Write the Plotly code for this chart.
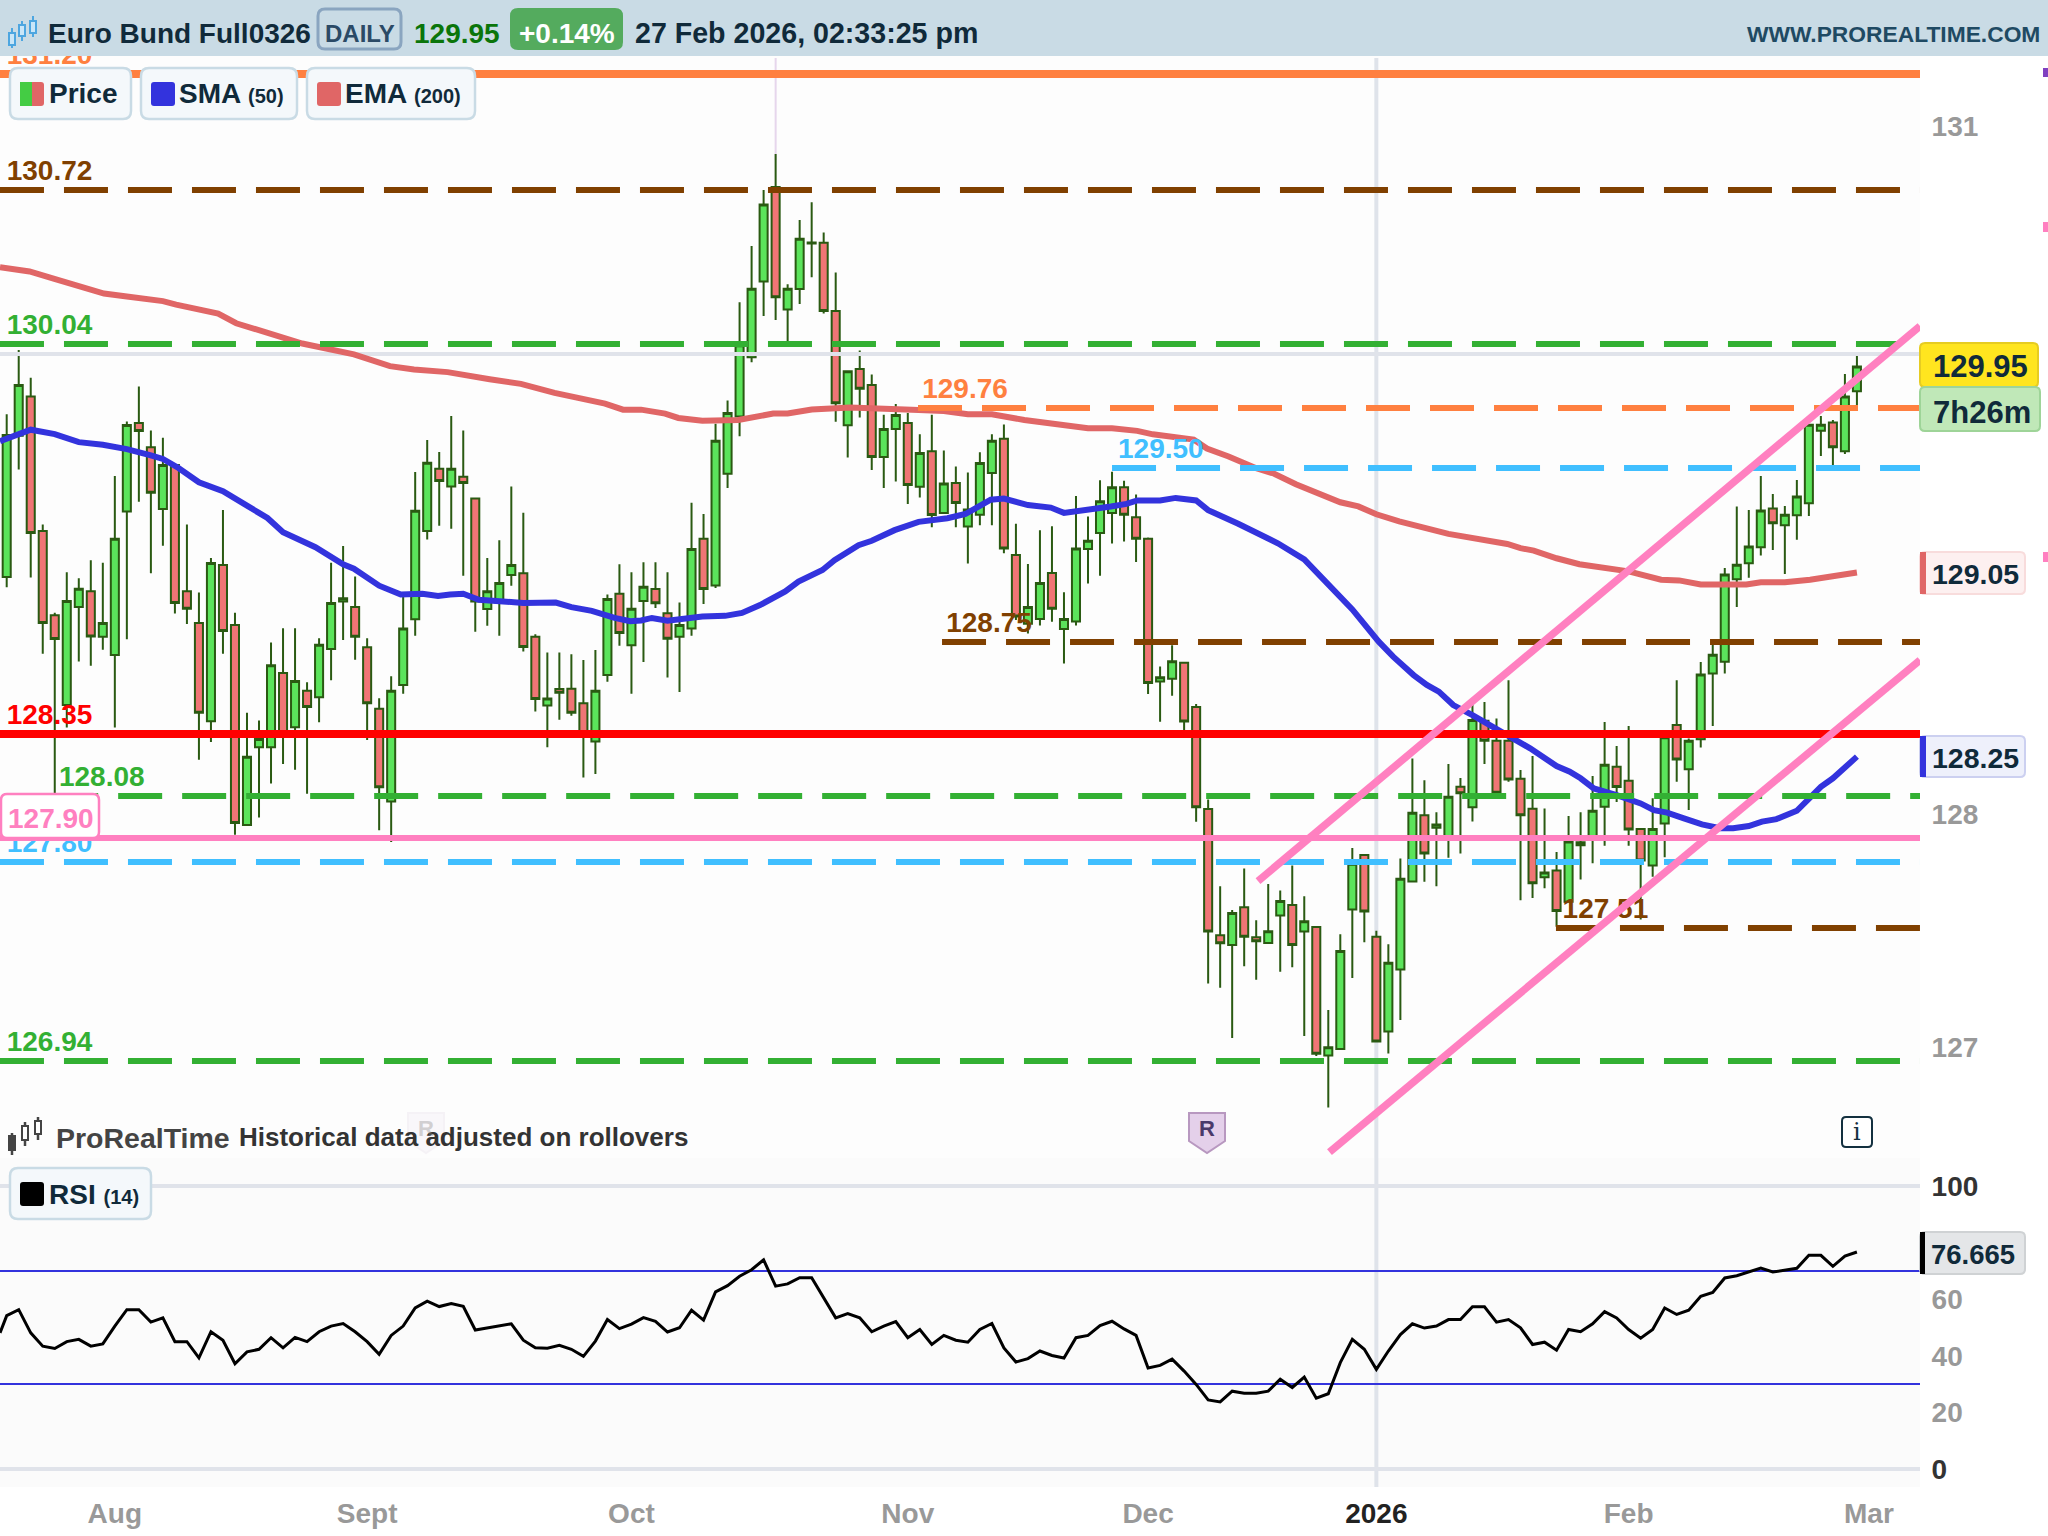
import plotly.graph_objects as go

# ---------- data ----------
opens = [129.041,129.654,129.824,129.240,128.875,128.485,128.911,128.979,128.781,128.702,
129.325,129.709,129.604,129.336,129.527,128.979,128.841,128.415,129.093,128.832,
127.964,128.302,128.302,128.624,128.389,128.547,128.519,128.728,128.934,128.911,
128.736,128.469,128.066,128.572,128.857,129.240,129.511,129.434,129.476,129.381,
128.902,128.93,129.049,129.057,128.781,128.483,128.555,128.556,128.493,128.327,
128.615,128.968,128.745,128.937,128.989,128.883,128.781,128.817,129.207,129.004,
129.489,129.737,129.995,130.323,130.733,130.202,130.291,130.488,130.491,130.195,
129.699,129.944,129.874,129.562,129.683,129.709,129.432,129.587,129.319,129.449,
129.260,129.311,129.492,129.641,129.136,128.838,128.858,129.058,128.815,128.848,
129.162,129.232,129.319,129.430,129.300,129.207,128.587,128.599,128.668,128.477,
128.034,127.486,127.443,127.607,127.477,127.452,127.572,127.617,127.502,127.522,
126.964,126.992,127.598,127.834,127.479,127.068,127.337,127.719,128.007,127.952,
127.899,128.130,128.041,128.417,128.330,128.330,128.165,128.035,127.738,127.767,
127.631,127.876,127.899,128.044,128.217,128.156,127.947,127.789,127.971,128.398,
128.206,128.336,128.622,128.673,129.031,129.100,129.170,129.338,129.265,129.309,
129.361,129.675,129.711,129.586,129.847]
closes = [129.657,129.874,129.232,128.841,128.772,128.937,128.990,128.782,128.841,129.207,
129.700,129.674,129.406,129.527,128.928,128.903,128.451,129.102,128.806,127.973,
128.260,128.338,128.658,128.36,128.589,128.477,128.747,128.928,128.948,128.781,
128.493,128.128,128.547,128.817,129.328,129.537,129.457,129.511,129.449,128.934,
128.979,129.015,129.093,128.737,128.511,128.513,128.538,128.451,128.356,128.547,
128.945,128.798,128.903,128.998,128.927,128.773,128.832,129.162,128.989,129.632,
129.753,130.047,130.292,130.657,130.255,130.292,130.509,130.492,130.195,129.795,
129.934,129.858,129.562,129.683,129.744,129.440,129.579,129.310,129.447,129.362,
129.334,129.536,129.632,129.164,128.869,128.911,129.015,128.903,128.858,129.164,
129.198,129.370,129.430,129.311,129.207,128.581,128.606,128.675,128.413,128.041,
127.502,127.451,127.582,127.479,127.460,127.503,127.634,127.443,127.547,126.972,
127.000,127.417,127.796,127.589,127.025,127.366,127.731,128.018,127.841,127.967,
128.087,128.102,128.42,128.33,128.104,128.162,128.007,127.711,127.758,127.591,
127.893,127.889,128.026,128.226,128.129,127.945,127.81,127.947,128.345,128.249,
128.330,128.617,128.703,129.052,129.094,129.173,129.329,129.274,129.311,129.390,
129.701,129.701,129.604,129.824,129.954]
highs = [129.747,130.026,129.905,129.269,128.886,129.061,129.035,129.113,129.103,129.479,
129.716,129.868,129.677,129.645,129.527,129.269,128.973,129.123,129.331,128.886,
128.452,128.418,128.756,128.818,128.818,128.584,128.775,129.103,129.175,129.043,
128.775,128.514,128.610,128.968,129.496,129.635,129.583,129.739,129.677,129.381,
129.123,129.20,129.434,129.320,128.792,128.713,128.713,128.705,128.680,128.724,
128.965,129.096,129.061,129.105,129.105,129.061,128.930,129.363,129.314,129.706,
129.807,130.233,130.477,130.720,130.877,130.311,130.590,130.667,130.536,130.362,
129.934,130.024,129.920,129.745,129.792,129.753,129.660,129.745,129.590,129.520,
129.494,129.582,129.660,129.703,129.272,129.097,129.244,129.261,128.975,129.392,
129.303,129.461,129.497,129.458,129.399,129.212,128.652,128.745,128.668,128.489,
128.075,127.699,127.595,127.776,127.551,127.708,127.680,127.789,127.655,127.522,
127.161,127.490,127.865,127.834,127.505,127.447,127.819,128.253,128.159,128.020,
128.229,128.168,128.491,128.498,128.427,128.593,128.203,128.264,128.036,127.847,
128.003,128.020,128.177,128.411,128.307,128.394,127.947,128.080,128.36,128.593,
128.340,128.672,128.767,129.080,129.347,129.332,129.479,129.401,129.349,129.462,
129.701,129.740,129.722,129.922,130.000]
lows = [128.996,129.507,129.038,128.708,128.10,128.387,128.674,128.655,128.725,128.387,
128.770,129.367,129.057,129.176,128.882,128.837,128.248,128.325,128.708,127.922,
127.964,127.997,128.144,128.229,128.204,128.10,128.410,128.593,128.767,128.682,
128.333,127.942,127.891,128.534,128.786,129.204,129.263,129.25,129.046,128.803,
128.829,128.786,129.003,128.717,128.457,128.302,128.421,128.438,128.170,128.186,
128.586,128.742,128.534,128.672,128.906,128.604,128.542,128.786,128.924,128.993,
129.427,129.652,129.973,130.174,130.156,130.063,130.226,130.342,130.184,129.714,
129.559,129.733,129.505,129.427,129.455,129.358,129.386,129.257,129.319,129.257,
129.099,129.265,129.265,129.144,128.854,128.795,128.830,128.846,128.665,128.830,
129.012,129.046,129.186,129.195,129.106,128.533,128.412,128.525,128.370,127.978,
127.276,127.258,127.040,127.351,127.293,127.452,127.327,127.347,127.049,126.962,
126.738,126.992,127.300,127.455,127.025,126.973,127.118,127.719,127.718,127.699,
127.822,127.841,127.979,128.229,128.104,128.152,127.638,127.648,127.690,127.523,
127.631,127.728,127.798,127.874,128.064,127.874,127.554,127.740,127.824,128.152,
128.029,128.301,128.394,128.622,128.910,129.037,129.134,129.158,129.054,129.202,
129.306,129.566,129.527,129.575,129.787]

sma_x = [-0.56,2,4,6,8,10,12,13,14.3,16,18,19.8,21.7,23,25.7,28,28.9,31,32.8,34.6,35.9,36.9,38,39.3,41.3,43,45.7,47,48.7,50.6,51.9,52.8,53.7,55,57.9,59.8,61.2,62.7,64.8,65.9,67.9,68.9,70.9,72,73.9,75.9,78.3,79.8,81.9,83,85,86.9,88,89.9,91.9,93.2,94.1,96,97.3,99,100,102.5,105.8,108,109.9,112,114.2,115.4,117.1,118.2,119.2,120.4,122,123.7,125.1,126.8,129,130.1,131,132.1,134,136,137.1,138.2,139.6,141.1,142.6,143.7,145,146.1,147.3,149,151,152,154]
sma_y = [129.630,129.680,129.661,129.626,129.615,129.596,129.569,129.553,129.514,129.452,129.413,129.359,129.297,129.235,129.170,129.096,129.077,129.003,128.965,128.968,128.958,128.965,128.968,128.942,128.937,128.928,128.930,128.910,128.894,128.863,128.849,128.852,128.863,128.851,128.869,128.872,128.885,128.919,128.978,129.021,129.071,129.114,129.179,129.198,129.244,129.280,129.296,129.314,129.376,129.381,129.353,129.342,129.319,129.330,129.347,129.358,129.373,129.373,129.384,129.373,129.331,129.272,129.187,129.117,129.012,128.900,128.760,128.695,128.615,128.572,128.543,128.485,128.441,128.391,128.343,128.297,128.220,128.196,128.167,128.123,128.094,128.058,128.029,128.018,127.993,127.967,127.950,127.950,127.960,127.979,127.990,128.026,128.130,128.167,128.261]
ema_x = [-0.56,1.9,3.9,5.9,8.1,10,13,14.1,17.6,19.1,22,24.6,28.9,31.9,33.9,36.7,40.2,42.8,45.6,47.6,49.8,51.3,52.8,54.8,55.9,57.9,60.9,63.8,65,67,70.2,75.9,78,80,82,84.7,88,90,92,94.1,95.4,98.8,99.9,101.7,104,105.5,107.3,109.2,111,112.5,114,115.9,118.1,120,124.9,126,127.1,129,130.9,135,137.7,139.2,141,144.8,146,148,150.1,152,154]
ema_y = [130.385,130.367,130.336,130.305,130.271,130.258,130.238,130.223,130.184,130.142,130.099,130.054,130.007,129.956,129.941,129.930,129.899,129.879,129.840,129.817,129.793,129.767,129.767,129.750,129.731,129.719,129.722,129.750,129.750,129.768,129.776,129.765,129.761,129.747,129.747,129.722,129.696,129.686,129.686,129.675,129.660,129.637,129.598,129.564,129.513,129.489,129.443,129.404,129.365,129.347,129.313,129.282,129.251,129.228,129.184,129.166,129.155,129.122,129.096,129.065,129.029,129.026,129.008,129.008,129.018,129.018,129.029,129.046,129.060]
rsi_start = [48.1]
rsi = [54.2,56.3,48.1,43.4,42.6,45.0,45.8,43.4,44.2,50.5,
56.3,56.3,51.9,53.4,45.0,45.0,39.3,48.5,45.5,37.2,
41.4,42.3,46.4,42.8,46.5,45.0,48.5,50.5,51.4,48.5,
45.0,40.5,47.2,50.5,56.9,59.3,57.4,58.5,57.5,49.1,
49.9,50.5,51.3,45.5,42.8,42.7,43.7,42.3,39.8,45.2,
52.8,49.6,51.2,53.5,52.2,48.4,49.9,56.1,52.6,62.6,
64.8,68.1,70.4,73.9,64.6,65.4,67.6,67.6,60.4,53.4,
54.9,53.4,48.5,50.5,52.1,46.4,49.3,44.0,47.2,45.5,
44.8,49.3,51.4,42.8,37.8,
39.0,41.7,40.1,39.2,46.4,47.2,50.7,52.2,49.5,47.2,
35.7,36.6,38.8,34.6,29.9,24.4,23.7,27.5,26.8,26.8,
27.5,31.7,28.8,32.5,25.0,26.6,37.6,45.8,42.3,35.2,
41.7,47.5,51.3,49.8,50.5,52.8,52.8,57.3,57.3,51.9,
52.8,49.9,44.0,44.8,42.0,49.3,48.5,51.3,55.6,53.4,
49.3,46.2,49.3,56.9,54.6,56.1,61.0,62.4,67.5,68.3,
69.7,71.0,69.6,70.2,70.9,75.5,75.5,71.6,75.2,76.67]

dash_levels = [130.72, 130.052, 129.774, 129.514, 128.759, 128.09, 127.804, 127.517, 126.94]
dash_labels = ["130.72", "130.04", "129.76", "129.50", "128.75", "128.08", "127.80", "127.51", "126.94"]
dash_colors = ["#804000", "#33b033", "#ff8040", "#40bfff", "#804000", "#33b033", "#40bfff", "#804000", "#33b033"]
dash_start = [-0.56, -0.56, 75.85, 92, 77.85, 3.95, -0.56, 128.95, -0.56]
label_start = [0.0, 0.0, 76.2, 92.5, 78.2, 4.35, 0.0, 129.5, 0.0]
label_lift = 0.012
solid_levels = [131.224, 128.359, 127.908]
solid_labels = ["131.20", "128.35", ""]
solid_colors = ["#ff8040", "#ff0000", "#ff80c0"]
solid_widths = [8, 8, 6]
grid_level = 130.009
trend_x = [[104.15, 159.25], [110.1, 159.25]]
trend_y = [[127.721, 130.130], [126.545, 128.680]]
month_pos = [9, 30, 52, 75, 95, 114, 135, 155]
month_txt = ["Aug", "Sept", "Oct", "Nov", "Dec", "<span style='color:#222'>2026</span>", "Feb", "Mar"]
price_ticks = [130.998, 128.012, 127.0]
price_tick_txt = ["131", "128", "127"]
rsi_ticks = [100, 60, 40, 20, 0]
rsi_tick_txt = ["<span style='color:#333'>100</span>", "60", "40", "20", "<span style='color:#333'>0</span>"]
rsi_levels = [70, 30]

# ---------- layout helpers ----------
W, H = 2048, 1536
FONT = "Liberation Sans"
def X(p): return p / W
def Y(p): return 1 - p / H
shapes, annos = [], []
def rrect(x0, y0, x1, y1, r=0, fill=None, line=None, lw=0, layer="above"):
    a, b, c, d = X(x0), Y(y0), X(x1), Y(y1)
    rx, ry = r / W, r / H
    if r:
        path = (f"M{a+rx},{b} L{c-rx},{b} Q{c},{b} {c},{b-ry} L{c},{d+ry} Q{c},{d} {c-rx},{d} "
                f"L{a+rx},{d} Q{a},{d} {a},{d+ry} L{a},{b-ry} Q{a},{b} {a+rx},{b} Z")
    else:
        path = f"M{a},{b} L{c},{b} L{c},{d} L{a},{d} Z"
    shapes.append(dict(type="path", xref="paper", yref="paper", path=path, fillcolor=fill or "rgba(0,0,0,0)",
                       line=dict(color=line or "rgba(0,0,0,0)", width=lw), layer=layer))
def seg(x0, y0, x1, y1, color, w, layer="above"):
    shapes.append(dict(type="line", xref="paper", yref="paper", x0=X(x0), y0=Y(y0), x1=X(x1), y1=Y(y1),
                       line=dict(color=color, width=w), layer=layer))
def txt(x, y, s, size=28, color="#102a3a", anchor="left", family=FONT, bold=True):
    annos.append(dict(xref="paper", yref="paper", x=X(x), y=Y(y), text=f"<b>{s}</b>" if bold else s, showarrow=False,
                      xanchor=anchor, yanchor="middle", font=dict(family=family, size=size, color=color), borderpad=0))

GREEN, RED = "#5be45b", "#f07575"
WICK = "#2a5a12"
SMA_C, EMA_C = "#3333dd", "#e06666"

# panes
rrect(0, 1158, 1920, 1487, fill="#fbfbfb", layer="below")
# vertical 2026 line and lilac marker line
shapes.append(dict(type="line", xref="x", yref="paper", x0=month_pos[5], x1=month_pos[5], y0=Y(1487), y1=Y(58),
                   line=dict(color="#dfe3ea", width=4), layer="below"))
shapes.append(dict(type="line", xref="x", yref="paper", x0=64, x1=64, y0=Y(160), y1=Y(58),
                   line=dict(color="#e6d6ec", width=2), layer="below"))

# header
rrect(0, 0, W, 56, fill="#c9dbe5")
for xc, top, bt, wt, wb in [(12, 33, 45, 28, 48), (22, 25, 36, 21, 41), (33, 21, 33, 16, 37)]:
    seg(xc, wt, xc, wb, "#4da6e0", 2)
    rrect(xc - 3, top, xc + 3, bt, fill="#c9e6f8", line="#4da6e0", lw=2)
txt(47, 33, "Euro Bund Full0326")
rrect(318, 9, 401, 49, r=7, line="#8aa5c0", lw=3)
txt(359.5, 33, "DAILY", size=24, color="#2b4a66", anchor="center")
txt(413, 33, "129.95", color="#0a750a")
rrect(510, 8, 623, 50, r=8, fill="#54ab5e")
txt(566.5, 33, "+0.14%", color="#ffffff", anchor="center")
txt(634, 33, "27 Feb 2026, 02:33:25 pm", size=28.6)
txt(2041, 34, "WWW.PROREALTIME.COM", size=22.8, color="#1f4a63", anchor="right")

# legend chips
def chip(x0, x1, y0, y1, swatch):
    rrect(x0, y0, x1, y1, r=8, fill="#f4f8fb", line="#c9dbe5", lw=2.5)
    if swatch:
        rrect(x0 + 10, y0 + 14, x0 + 34, y0 + 38, r=3, fill=swatch)
chip(10, 131, 68, 119, None)
rrect(20, 82, 44, 106, r=3, fill=EMA_C)
rrect(20, 82, 32, 106, fill="#44cc44")
txt(48, 94, "Price")
chip(141, 297, 68, 119, SMA_C)
txt(178, 94, "SMA <span style='font-size:20px'>(50)</span>")
chip(307, 475, 68, 119, EMA_C)
txt(344, 94, "EMA <span style='font-size:20px'>(200)</span>")
chip(10, 151, 1168, 1219, "#000000")
txt(48, 1194, "RSI <span style='font-size:20px'>(14)</span>", size=28)

# pink level badge
rrect(1, 794, 99, 838, r=6, fill="#ffffff", line="#ff80c0", lw=2.5)
txt(7, 818, "127.90", color="#ff80c0")

# right badges
rrect(1920, 343, 2038, 387, r=5, fill="#ffe51f", line="#e6cc22", lw=2)
txt(1932, 366, "129.95", size=31, color="#102a3a")
rrect(1920, 387, 2040, 431, r=5, fill="#c0e8b8", line="#9ed498", lw=2)
txt(1932, 412, "7h26m", size=31, color="#102a3a")
rrect(1920, 552, 2025, 594, r=5, fill="#fdf0f0", line="#f8dcdc", lw=2)
rrect(1920, 552, 1926, 594, fill=EMA_C)
txt(1931, 574, "129.05", size=28.5)
rrect(1920, 736, 2025, 777, r=5, fill="#eef0fb", line="#ccd0f0", lw=2)
rrect(1920, 736, 1926, 777, fill=SMA_C)
txt(1931, 758, "128.25", size=28.5)
rrect(1920, 1232, 2025, 1274, r=5, fill="#e4e6e8", line="#cfd2d4", lw=2)
rrect(1920, 1232, 1925, 1274, fill="#000000")
txt(1930, 1254, "76.665", size=27.5)

# right edge marks
rrect(2043, 68, 2048, 77, fill="#8040c0")
rrect(2043, 222, 2048, 232, fill="#ff80c0")
rrect(2043, 552, 2048, 562, fill="#ff80c0")

# footer
for xc, top, bt, wt, wb in [(12, 1136, 1150, 1133, 1155), (25, 1126, 1140, 1122, 1146), (38, 1121, 1134, 1117, 1140)]:
    seg(xc, wt, xc, wb, "#444444", 2.5)
    rrect(xc - 3, top, xc + 3, bt, fill="#ffffff" if xc > 12 else "#444444", line="#444444", lw=2)
txt(55, 1138, "ProRealTime", size=28.5, color="#444444")
txt(238, 1137, "Historical data adjusted on rollovers", size=26, color="#333333")

# R markers
def marker(cx, fill, line, color, op=1):
    a, b, c, d, e = X(cx - 18), X(cx + 18), X(cx), Y(1113), Y(1141)
    shapes.append(dict(type="path", xref="paper", yref="paper", opacity=op,
                       path=f"M{a},{d} L{b},{d} L{b},{e} L{c},{Y(1153)} L{a},{e} Z",
                       fillcolor=fill, line=dict(color=line, width=2), layer="above"))
    annos.append(dict(xref="paper", yref="paper", x=X(cx), y=Y(1128), text="<b>R</b>", showarrow=False, opacity=op,
                      font=dict(family=FONT, size=22, color=color), xanchor="center", yanchor="middle"))
marker(1207, "#e4d0ea", "#b898c0", "#4a3a6a")
marker(426, "#f4eef6", "#e8e0ea", "#888888", 0.35)
rrect(1842, 1117, 1872, 1147, r=4, fill="#ffffff", line="#13303f", lw=2)
txt(1857, 1132, "i", size=24, color="#13303f", anchor="center", family="DejaVu Serif", bold=False)

# ---------- traces ----------
fig = go.Figure()
idx = list(range(len(opens)))
fig.add_trace(go.Candlestick(x=idx, open=opens, high=highs, low=lows, close=closes, whiskerwidth=0,
    increasing=dict(line=dict(color=WICK, width=2), fillcolor=GREEN),
    decreasing=dict(line=dict(color=WICK, width=2), fillcolor=RED), xaxis="x", yaxis="y", showlegend=False))
RNG_L, RNG_R = -0.558, 159.25
fig.add_trace(go.Scatter(x=[RNG_L, RNG_R], y=[grid_level] * 2, mode="lines", line=dict(color="#e0e3ea", width=4)))
fig.add_trace(go.Scatter(x=ema_x, y=ema_y, mode="lines", line=dict(color=EMA_C, width=6)))
fig.add_trace(go.Scatter(x=sma_x, y=sma_y, mode="lines", line=dict(color=SMA_C, width=6)))
for lv, c, s in zip(dash_levels, dash_colors, dash_start):
    fig.add_trace(go.Scatter(x=[s, RNG_R], y=[lv, lv], mode="lines", line=dict(color=c, width=6, dash="44px,20px")))
fig.add_trace(go.Scatter(x=label_start, y=[v + label_lift for v in dash_levels], text=[f"<b>{t}</b>" for t in dash_labels], mode="text",
    textposition="top right", textfont=dict(family=FONT, size=28, color=dash_colors)))
fig.add_trace(go.Scatter(x=[0.0, 0.0], y=[v + label_lift for v in solid_levels[:2]], text=[f"<b>{t}</b>" for t in solid_labels[:2]], mode="text",
    textposition="top right", textfont=dict(family=FONT, size=28, color=solid_colors[:2])))
for lv, c, w in zip(solid_levels, solid_colors, solid_widths):
    fig.add_trace(go.Scatter(x=[RNG_L, RNG_R], y=[lv, lv], mode="lines", line=dict(color=c, width=w)))
for tx, ty in zip(trend_x, trend_y):
    fig.add_trace(go.Scatter(x=tx, y=ty, mode="lines", line=dict(color="#ff80c0", width=7.5)))

# RSI pane
for v in [100, 0]:
    fig.add_trace(go.Scatter(x=[RNG_L, RNG_R], y=[v, v], mode="lines", line=dict(color="#e0e3ea", width=4), xaxis="x2", yaxis="y2"))
for v in rsi_levels:
    fig.add_trace(go.Scatter(x=[RNG_L, RNG_R], y=[v, v], mode="lines", line=dict(color=SMA_C, width=2), xaxis="x2", yaxis="y2"))
fig.add_trace(go.Scatter(x=[RNG_L] + idx, y=rsi_start + rsi, mode="lines", line=dict(color="#000000", width=3), xaxis="x2", yaxis="y2"))

tick_font = dict(family=FONT, size=28, color="#999999")
bold = lambda L: [f"<b>{t}</b>" for t in L]
fig.update_layout(
    width=W, height=H, margin=dict(l=0, r=0, t=0, b=0, autoexpand=False), showlegend=False,
    paper_bgcolor="#ffffff", plot_bgcolor="#fdfdfd", boxgap=0.33, boxgroupgap=0, hovermode=False,
    shapes=shapes, annotations=annos,
    xaxis=dict(domain=[0, 1920 / W], range=[RNG_L, RNG_R], showgrid=False, zeroline=False, showticklabels=False,
               rangeslider=dict(visible=False), anchor="y", ticks=""),
    yaxis=dict(domain=[Y(1158), Y(56)], range=[126.519, 131.302], side="right", anchor="x", showgrid=False, zeroline=False,
               tickmode="array", tickvals=price_ticks, ticktext=bold(price_tick_txt), tickfont=tick_font,
               ticks="outside", ticklen=5, tickcolor="rgba(0,0,0,0)"),
    xaxis2=dict(domain=[0, 1920 / W], range=[RNG_L, RNG_R], showgrid=False, zeroline=False, anchor="y2",
                tickmode="array", tickvals=month_pos, ticktext=bold(month_txt), tickfont=tick_font,
                ticks="outside", ticklen=1, tickcolor="rgba(0,0,0,0)"),
    yaxis2=dict(domain=[Y(1487), Y(1158)], range=[-6.36, 109.89], side="right", anchor="x2", showgrid=False, zeroline=False,
                tickmode="array", tickvals=rsi_ticks, ticktext=bold(rsi_tick_txt), tickfont=tick_font,
                ticks="outside", ticklen=5, tickcolor="rgba(0,0,0,0)"),
)
fig.write_html("out.html", config={"displayModeBar": False}, post_script="document.body.style.margin='0';")
